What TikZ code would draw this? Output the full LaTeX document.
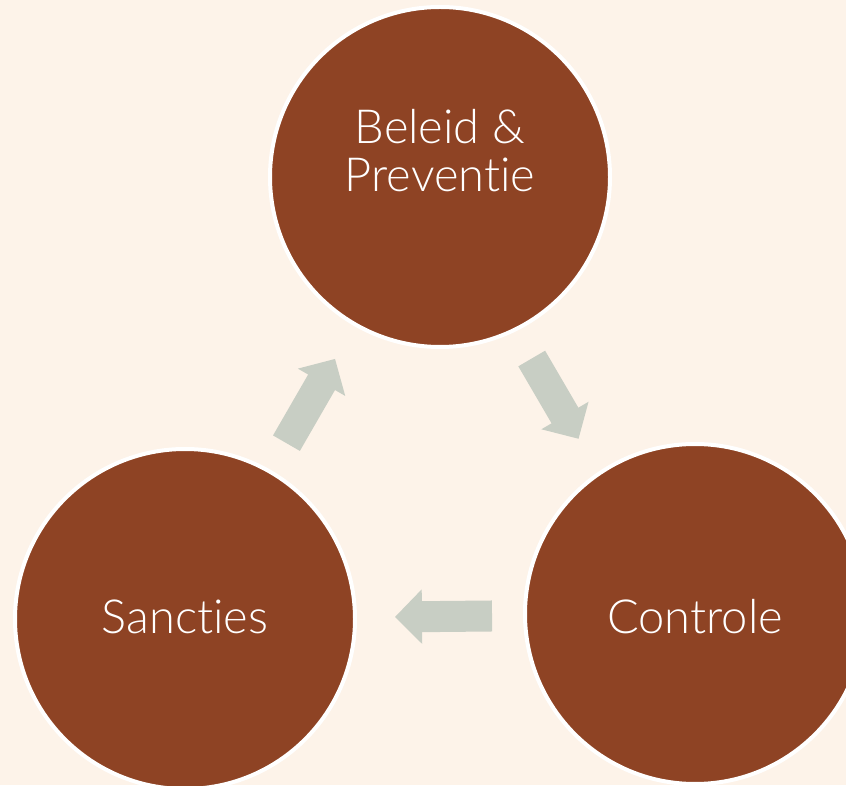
\documentclass[tikz,border=0pt]{standalone}
\usepackage{fontspec}
\setmainfont{Lato Light}[Ligatures={NoCommon}]
\usetikzlibrary{arrows.meta}
\definecolor{bgcream}{HTML}{FDF3E9}
\definecolor{rust}{HTML}{8E4324}
\definecolor{sage}{HTML}{C8CEC4}
\tikzstyle{stage} = [circle, draw=white, line width=4pt, fill=rust,
    minimum size=340pt, inner sep=0pt]
\tikzstyle{stagetext} = [text=white, font=\fontsize{47}{48}\selectfont,
    align=center, inner sep=0pt]
\tikzstyle{line} = [draw=sage, line width=31pt, -{Triangle[width=53pt,length=27pt]},
    shorten <=31pt, shorten >=38pt]

\begin{document}
\begin{tikzpicture}[x=1pt, y=1pt]
    \useasboundingbox (0,0) rectangle (846,785);
    \clip (0,0) rectangle (846,785);
    \fill [bgcream] (0,0) rectangle (846,785);
    % Place nodes
    \node [stage] (beleid) at (440,608) {};
    \node [stage] (controle) at (695,171) {};
    \node [stage] (sancties) at (185,166) {};
    \node [stagetext] (beleidtext) at ([yshift=26pt]beleid.center) {Beleid \&\\Preventie};
    \node [stagetext, anchor=base] (controletext) at ([yshift=-19.5pt]controle.center) {Controle};
    \node [stagetext, anchor=base] (sanctiestext) at ([yshift=-14.5pt]sancties.center) {Sancties};
    % Draw edges
    \path [line, transform canvas={shift={(-10.6pt,-6.2pt)}}] (beleid) -- (controle);
    \path [line] (controle) -- (sancties);
    \path [line] (sancties) -- (beleid);
\end{tikzpicture}
\end{document}
